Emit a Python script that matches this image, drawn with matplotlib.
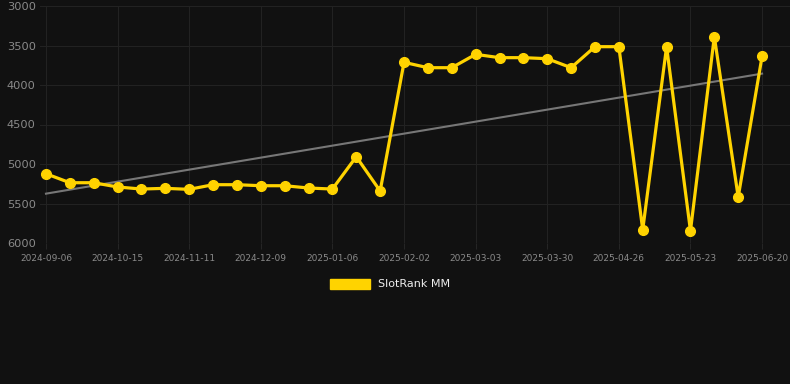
import matplotlib.pyplot as plt
import matplotlib.patches as mpatches
import numpy as np

# dates for each observation (only every 3rd one is labelled on the axis)
dates = ['2024-09-06', '2024-09-19', '2024-10-02', '2024-10-15', '2024-10-24', '2024-11-02',
         '2024-11-11', '2024-11-20', '2024-11-30', '2024-12-09', '2024-12-18', '2024-12-28',
         '2025-01-06', '2025-01-15', '2025-01-24', '2025-02-02', '2025-02-12', '2025-02-21',
         '2025-03-03', '2025-03-12', '2025-03-21', '2025-03-30', '2025-04-08', '2025-04-17',
         '2025-04-26', '2025-05-05', '2025-05-14', '2025-05-23', '2025-06-01', '2025-06-11',
         '2025-06-20']
slotrank = [5123, 5237, 5237, 5291, 5317, 5308, 5321, 5262, 5262, 5275, 5275, 5304,
            5317, 4908, 5342, 3713, 3781, 3781, 3612, 3654, 3654, 3667, 3781, 3515,
            3515, 5832, 3515, 5845, 3388, 5418, 3637]

bg = '#111111'
gold = '#FFD300'

fig = plt.figure(figsize=(7.9, 3.84), dpi=100, facecolor=bg)
ax = fig.add_axes([40/790, 1 - 243/384, 750/790, 237/384], facecolor=bg)

x = np.arange(len(dates))
y = np.array(slotrank)

# linear trend line
k, b = np.polyfit(x, y, 1)
ax.plot(x, k*x + b, color='#777777', linewidth=1.5, zorder=2)

ax.plot(x, y, color=gold, linewidth=2.3, marker='o', markersize=7,
        solid_joinstyle='miter', zorder=3)

ax.set_ylim(6000, 3000)
ax.set_xlim(-0.25, 31.17)
ax.set_yticks([3000, 3500, 4000, 4500, 5000, 5500, 6000])
ax.set_xticks(x[::3])
ax.set_xticklabels(dates[::3])

ax.grid(True, color='#222222', linewidth=0.8)
ax.set_axisbelow(True)
for s in ax.spines.values():
    s.set_visible(False)
ax.tick_params(axis='y', colors='#8a8a8a', labelsize=8.2, length=0, pad=3)
ax.tick_params(axis='x', colors='#8a8a8a', labelsize=6.5, length=4, width=0.6, pad=4)
ax.tick_params(axis='x', color='#2a2a2a')

patch = mpatches.Patch(color=gold, label='SlotRank MM')
leg = fig.legend(handles=[patch], loc='center', bbox_to_anchor=(390/790, 1 - 284/384),
                 frameon=False, fontsize=8, handlelength=3.6, handleheight=1.0,
                 handletextpad=0.7, labelcolor='#eeeeee')

fig.savefig('out.png', dpi=100, facecolor=bg)
